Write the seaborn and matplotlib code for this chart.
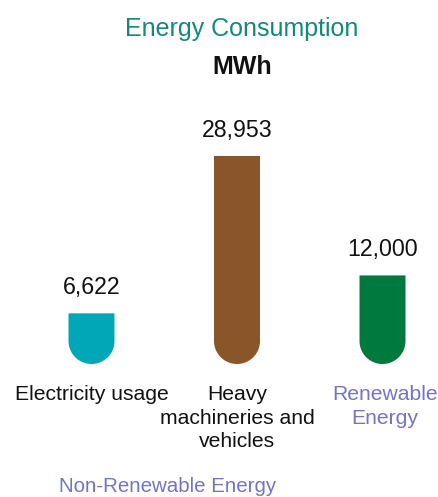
import numpy as np
import matplotlib
matplotlib.use("Agg")
import matplotlib.pyplot as plt
import matplotlib.transforms as mtransforms
from matplotlib.path import Path
from matplotlib.patches import PathPatch
import seaborn as sns

# data
categories = ["Electricity usage", "Heavy\nmachineries and\nvehicles", "Renewable\nEnergy"]
values = [6622, 28953, 12000]
value_labels = ["6,622", "28,953", "12,000"]
bar_colors = ["#00a7b6", "#8b5627", "#00793e"]
label_colors = ["#111111", "#111111", "#7474c4"]
group_label = "Non-Renewable Energy"

sns.set_theme(style="white")
plt.rcParams["font.family"] = ["Liberation Sans", "DejaVu Sans"]

W, H = 438, 497
AX_BOTTOM, AX_H = 131, 320
UPP = 141.9          # data units per pixel (vertical)
X_PX = 145.5         # pixels per category step

fig = plt.figure(figsize=(W / 100, H / 100), dpi=100)
ax = fig.add_axes([0, AX_BOTTOM / H, 1, AX_H / H])

sns.barplot(x=categories, y=values, hue=categories, palette=bar_colors,
            width=0.316, legend=False, ax=ax, saturation=1)
ax.set_xlim(-91.5 / X_PX, (W - 91.5) / X_PX)
ax.set_ylim(-6 * UPP, (AX_H - 6) * UPP)
ax.axis("off")

# swap plain rectangles for bars with a rounded bottom end
for bar in list(ax.patches):
    x0, w, h = bar.get_x(), bar.get_width(), bar.get_height()
    xc, rx = x0 + w / 2, w / 2
    ry = rx * X_PX * UPP
    bottom = -4 * UPP
    cy = bottom + ry
    t = np.linspace(np.pi, 2 * np.pi, 60)
    verts = [(x0, h), (x0, cy)] + list(zip(xc + rx * np.cos(t), cy + ry * np.sin(t))) + [(x0 + w, h), (x0, h)]
    codes = [Path.MOVETO] + [Path.LINETO] * (len(verts) - 2) + [Path.CLOSEPOLY]
    ax.add_patch(PathPatch(Path(verts, codes), facecolor=bar.get_facecolor(), edgecolor="none"))
    bar.set_visible(False)

for i, (v, lab) in enumerate(zip(values, value_labels)):
    ax.annotate(lab, (i, v), xytext=(0, 14), textcoords="offset points",
                ha="center", va="baseline", fontsize=16.7, color="#111111")

trans = mtransforms.blended_transform_factory(ax.transData, fig.transFigure)
for i, (cat, col) in enumerate(zip(categories, label_colors)):
    xpos = i if i < 2 else i + 2.5 / X_PX
    ax.text(xpos, 1 - 385 / H, cat, transform=trans, ha="center", va="top",
            fontsize=15.2, color=col, linespacing=1.3)

fig.text(168 / W, 1 - 492 / H, group_label, ha="center", va="baseline",
         fontsize=14.8, color="#7474c4")
fig.text(241.5 / W, 1 - 36 / H, "Energy Consumption", ha="center", va="baseline",
         fontsize=18, color="#13897a")
fig.text(242 / W, 1 - 74 / H, "MWh", ha="center", va="baseline",
         fontsize=18, fontweight="bold", color="#111111")

plt.savefig("out.png", dpi=100)
plt.close()
